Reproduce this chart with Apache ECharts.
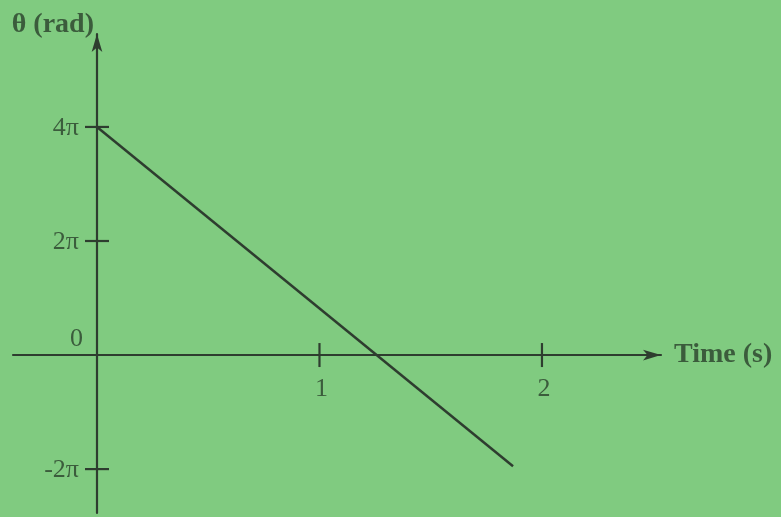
<!DOCTYPE html>
<html><head><meta charset="utf-8">
<script src="https://cdn.jsdelivr.net/npm/echarts@6/dist/echarts.min.js"></script>
<style>html,body{margin:0;padding:0;background:#80cb80;}#c{width:781px;height:517px;}</style>
</head><body><div id="c"></div>
<script>
// values in units of pi
const timeValues = [0, 1.87];
const thetaValues = [4, -1.95];
const xTicks = [1, 2];
const xTickLabels = ['1', '2'];
const yTicks = [-2, 2, 4];
const yTickLabels = ['-2π', '2π', '4π'];
const originLabel = '0';
const xName = 'Time (s)';
const yName = 'θ (rad)';

const axisColor = '#2e3d2f';
const textColor = '#3b5c3c';
const font = 'Liberation Serif, Times New Roman, serif';

const X_MIN = -0.3775, X_MAX = 2.535, Y_MIN = -2.77, Y_MAX = 5.63;

// tick data: [x, y, kind(0=x tick,1=y tick,2=origin label), labelIndex]
const tickData = [];
xTicks.forEach((v, i) => tickData.push([v, 0, 0, i]));
yTicks.forEach((v, i) => tickData.push([0, v, 1, i]));
tickData.push([0, 0, 2, 0]);

const chart = echarts.init(document.getElementById('c'), null, {renderer: 'canvas'});
chart.setOption({
  backgroundColor: '#80cb80',
  animation: false,
  grid: {left: 13, right: 120, top: 34, bottom: 4, containLabel: false, outerBoundsMode: 'none'},
  xAxis: {
    type: 'value', min: X_MIN, max: X_MAX,
    splitLine: {show: false}, axisTick: {show: false}, axisLabel: {show: false},
    axisLine: {show: true, onZero: true, symbol: ['none', 'arrow'], symbolSize: [8, 18],
      lineStyle: {color: axisColor, width: 2.2}},
    name: xName, nameLocation: 'end', nameGap: 13,
    nameTextStyle: {color: textColor, fontFamily: font, fontSize: 28, fontWeight: 'bold',
      align: 'left', verticalAlign: 'middle'}
  },
  yAxis: {
    type: 'value', min: Y_MIN, max: Y_MAX,
    splitLine: {show: false}, axisTick: {show: false}, axisLabel: {show: false},
    axisLine: {show: true, onZero: true, symbol: ['none', 'arrow'], symbolSize: [8, 18],
      lineStyle: {color: axisColor, width: 2.2}},
    name: yName, nameLocation: 'end', nameGap: 9,
    nameTextStyle: {color: textColor, fontFamily: font, fontSize: 28, fontWeight: 'bold',
      align: 'right', verticalAlign: 'middle', padding: [0, 3, 0, 0]}
  },
  series: [{
    type: 'line', symbol: 'none',
    data: timeValues.map((t, i) => [t, thetaValues[i]]),
    lineStyle: {color: axisColor, width: 2.5}
  }, {
    type: 'custom', clip: false, silent: true,
    data: tickData,
    renderItem: function (params, api) {
      const kind = api.value(2), idx = api.value(3);
      const p = api.coord([api.value(0), api.value(1)]);
      const lineStyle = {stroke: axisColor, lineWidth: 2.2};
      const textBase = {fill: textColor, fontFamily: font, fontSize: 26};
      if (kind === 0) {
        return {type: 'group', children: [
          {type: 'line', shape: {x1: p[0], y1: p[1] - 12, x2: p[0], y2: p[1] + 12}, style: lineStyle},
          {type: 'text', x: p[0] + 2, y: p[1] + 21,
            style: Object.assign({text: xTickLabels[idx], align: 'center', verticalAlign: 'top'}, textBase)}
        ]};
      } else if (kind === 1) {
        return {type: 'group', children: [
          {type: 'line', shape: {x1: p[0] - 12, y1: p[1], x2: p[0] + 12, y2: p[1]}, style: lineStyle},
          {type: 'text', x: p[0] - 18, y: p[1] + 1,
            style: Object.assign({text: yTickLabels[idx], align: 'right', verticalAlign: 'middle'}, textBase)}
        ]};
      }
      return {type: 'text', x: p[0] - 14, y: p[1] - 16,
        style: Object.assign({text: originLabel, align: 'right', verticalAlign: 'middle'}, textBase)};
    }
  }]
});
</script></body></html>
